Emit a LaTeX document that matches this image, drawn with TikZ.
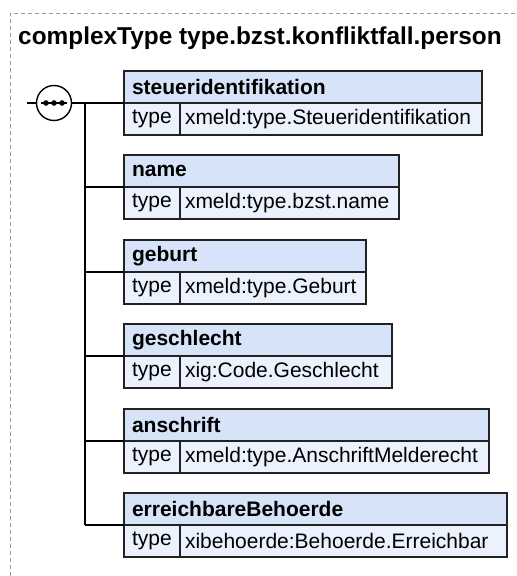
\documentclass[tikz,border=0pt]{standalone}
\usepackage{fontspec}
\setmainfont{Liberation Sans}
\usetikzlibrary{calc}
\definecolor{hdrfill}{HTML}{D6E3F8}
\definecolor{valfill}{HTML}{EBF2FD}
\definecolor{boxline}{HTML}{222222}
\definecolor{frameline}{HTML}{9A9A9A}
\tikzset{
  hdr/.style={draw=boxline, line width=1.4pt, fill=hdrfill, rectangle, minimum height=32pt,
    inner xsep=8pt, inner ysep=0pt, align=left, anchor=north west, outer sep=0pt,
    font=\fontsize{21}{24}\selectfont\bfseries},
  typecell/.style={draw=boxline, line width=1.4pt, fill=valfill, rectangle, minimum height=32pt,
    minimum width=56pt, inner sep=0pt, outer sep=0pt, anchor=north west, font=\fontsize{21}{24}\selectfont},
  valcell/.style={draw=boxline, line width=1.4pt, fill=valfill, rectangle, minimum height=32pt,
    inner xsep=5pt, inner ysep=0pt, outer sep=0pt, align=left, anchor=north west, font=\fontsize{21}{24}\selectfont},
  conn/.style={line width=1.4pt, black},
  framedash/.style={draw=frameline, line width=1pt, dash pattern=on 4pt off 3pt},
}
\newcommand\xsdelem[5]{%
  \pgfmathsetmacro\hdrtw{#3-124-16}%
  \pgfmathsetmacro\valtw{#3-180-10}%
  \node[hdr, text width=\hdrtw pt] (#1h) at (124,#2) {#4};
  \node[typecell] (#1t) at (124,#2+32) {type};
  \node[valcell, text width=\valtw pt] (#1v) at (180,#2+32) {#5};
}
\begin{document}
\begin{tikzpicture}[x=1pt,y=-1pt]
  \useasboundingbox (0,0) rectangle (517,576);
  \draw[framedash] (10,576) -- (10,13) -- (517,13);
  \node[anchor=base west, inner sep=0pt, font=\fontsize{24.4}{28}\selectfont\bfseries] (title) at (18,44.5) {complexType type.bzst.konfliktfall.person};

  \xsdelem{a}{71}{482}{steueridentifikation}{xmeld:type.Steueridentifikation}
  \xsdelem{b}{155}{399}{name}{xmeld:type.bzst.name}
  \xsdelem{c}{240}{366}{geburt}{xmeld:type.Geburt}
  \xsdelem{d}{324}{392}{geschlecht}{xig:Code.Geschlecht}
  \xsdelem{e}{409}{489}{anschrift}{xmeld:type.AnschriftMelderecht}
  \xsdelem{f}{493}{507}{erreichbareBehoerde}{xibehoerde:Behoerde.Erreichbar}

  \coordinate (in) at (27,103);
  \node[circle, draw=black, line width=1.4pt, fill=white, minimum size=35pt, inner sep=0pt, outer sep=0pt] (seq) at (54,103) {};
  \coordinate (top) at (85,103);
  \coordinate (bot) at (85,525);
  \draw[conn] (in) -- (seq.west);
  \draw[conn] (seq.east) -- (ah.south west);
  \draw[conn] (top) -- (bot);
  \foreach \n in {b,c,d,e,f} {
    \draw[conn] (85,0 |- \n h.south west) -- (\n h.south west);
  }
  \draw[line width=1.2pt] ($(seq.center)+(-13,0)$) -- ($(seq.center)+(13,0)$);
  \foreach \dx in {-8,0,8} {
    \fill ($(seq.center)+(\dx,0)$) circle (2.8pt);
  }
\end{tikzpicture}
\end{document}
